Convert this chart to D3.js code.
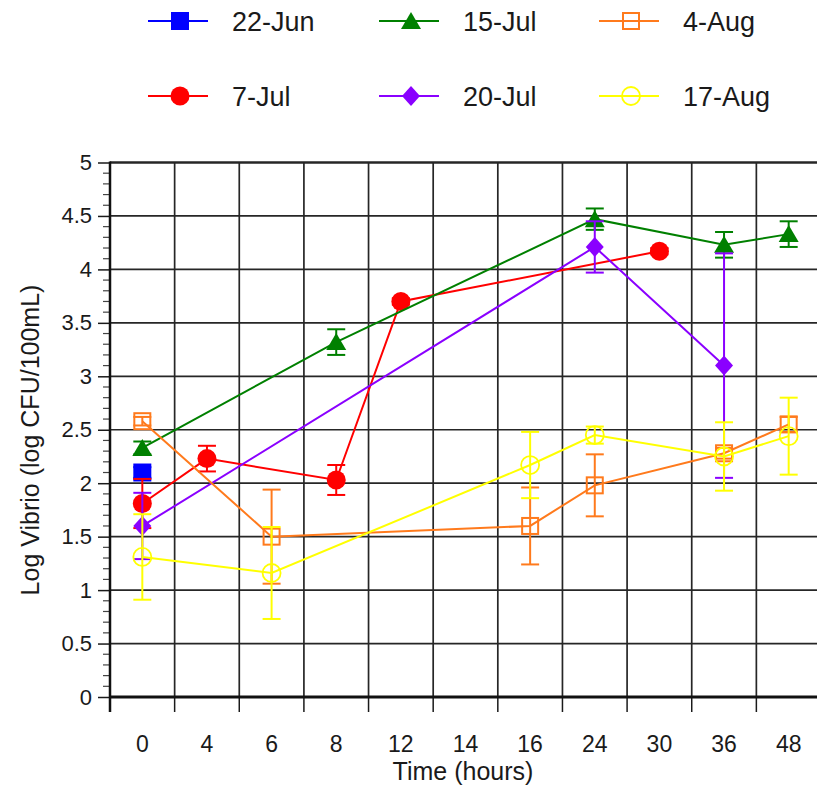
<!DOCTYPE html>
<html><head><meta charset="utf-8">
<script src="https://cdn.jsdelivr.net/npm/d3@7"></script>
<style>
body{margin:0;background:#fff;overflow:hidden}
svg{display:block}
text{font-family:"Liberation Sans",Arial,Helvetica,sans-serif;fill:#1a1a1a}
</style>
</head><body>
<svg id="chart" width="817" height="786"></svg>
<script>
// ---- data ----
const timeLabels = ["0","4","6","8","12","14","16","24","30","36","48"];
const yTickValues = [0,0.5,1,1.5,2,2.5,3,3.5,4,4.5,5];
const seriesNames = ["22-Jun","7-Jul","15-Jul","20-Jul","4-Aug","17-Aug"];
const seriesColors = ["#0000ff","#ff0000","#008000","#8a00ff","#ff7a1c","#ffff00"];
const seriesSymbols = ["square","circle","triangle","diamond","squareOpen","circleOpen"];

const jun22Times = ["0"];
const jun22Values = [2.10];
const jun22Errors = [0.05];

const jul7Times = ["0","4","8","12","30"];
const jul7Values = [1.81,2.23,2.03,3.70,4.17];
const jul7Errors = [0.23,0.12,0.14,0.03,0.03];

const jul15Times = ["0","8","24","36","48"];
const jul15Values = [2.33,3.32,4.47,4.23,4.33];
const jul15Errors = [0.06,0.12,0.10,0.12,0.12];

const jul20Times = ["0","24","36"];
const jul20Values = [1.60,4.21,3.10];
const jul20Errors = [0.31,0.24,1.05];

const aug4Times = ["0","6","16","24","36","48"];
const aug4Values = [2.58,1.50,1.60,1.98,2.28,2.55];
const aug4Errors = [0.04,0.44,0.36,0.29,0.05,0.07];

const aug17Times = ["0","6","16","24","36","48"];
const aug17Values = [1.31,1.16,2.17,2.45,2.25,2.44];
const aug17Errors = [0.40,0.43,0.31,0.08,0.32,0.36];

const seriesTimes = [jun22Times,jul7Times,jul15Times,jul20Times,aug4Times,aug17Times];
const seriesValues = [jun22Values,jul7Values,jul15Values,jul20Values,aug4Values,aug17Values];
const seriesErrors = [jun22Errors,jul7Errors,jul15Errors,jul20Errors,aug4Errors,aug17Errors];

// ---- layout ----
const svg = d3.select("#chart");
const plotLeft = 110, plotTop = 162.5, plotBottom = 697, plotRight = 821;
const x = d3.scaleBand().domain(timeLabels).range([plotLeft, plotRight]);
const xc = t => x(t) + x.bandwidth()/2;
const y = d3.scaleLinear().domain([0,5]).range([plotBottom, plotTop]);

const grid = svg.append("g");
grid.selectAll("line.h").data(yTickValues).join("line")
  .attr("x1", plotLeft).attr("x2", 817)
  .attr("y1", d=>y(d)).attr("y2", d=>y(d))
  .attr("stroke", "#262626").attr("stroke-width", d => (d===5?2.6:1.7));
grid.selectAll("line.v").data(timeLabels.slice(1)).join("line")
  .attr("x1", d=>x(d)).attr("x2", d=>x(d))
  .attr("y1", plotTop).attr("y2", plotBottom)
  .attr("stroke", "#262626").attr("stroke-width", 1.7);

// y axis
const yAxis = d3.axisLeft(y).tickValues(yTickValues).tickSize(12).tickPadding(6)
  .tickFormat(d3.format("~g"));
const gy = svg.append("g").attr("transform", `translate(${plotLeft},0)`).call(yAxis);
gy.select(".domain").remove();
gy.selectAll(".tick line").attr("stroke","#1a1a1a").attr("stroke-width",1.5);
gy.selectAll(".tick text").attr("font-size",22).attr("fill","#1a1a1a")
  .attr("font-family",'"Liberation Sans",Arial,sans-serif');
const minor = d3.range(0, 50).map(i => i/10).filter(v => Math.abs(v*2 - Math.round(v*2))>1e-6);
svg.append("g").selectAll("line").data(minor).join("line")
  .attr("x1", plotLeft-7).attr("x2", plotLeft).attr("y1", d=>y(d)).attr("y2", d=>y(d))
  .attr("stroke","#444").attr("stroke-width",1.2);

// x axis
const gx = svg.append("g").attr("transform", `translate(0,${plotBottom})`);
gx.selectAll("line").data(timeLabels).join("line")
  .attr("x1", d=>x(d)).attr("x2", d=>x(d)).attr("y1", 0).attr("y2", 15)
  .attr("stroke","#1a1a1a").attr("stroke-width",1.5);
gx.selectAll("text").data(timeLabels).join("text")
  .attr("x", d=>xc(d)).attr("y", 55).attr("text-anchor","middle")
  .attr("font-size",23).text(d=>d);

svg.append("line").attr("x1",plotLeft).attr("x2",plotLeft).attr("y1",plotTop-1).attr("y2",plotBottom+15)
  .attr("stroke","#111").attr("stroke-width",2.5);
svg.append("line").attr("x1",plotLeft).attr("x2",817).attr("y1",plotBottom).attr("y2",plotBottom)
  .attr("stroke","#111").attr("stroke-width",3);

svg.append("text").attr("x", 463).attr("y", 780).attr("text-anchor","middle")
  .attr("font-size",25).text("Time (hours)");
svg.append("text").attr("transform","translate(39,440) rotate(-90)")
  .attr("text-anchor","middle").attr("font-size",25).text("Log Vibrio (log CFU/100mL)");

function drawSymbol(g, type, color, cx, cy) {
  const s = 9;
  if (type === "square") {
    g.append("rect").attr("x",cx-s).attr("y",cy-s).attr("width",2*s).attr("height",2*s).attr("fill",color);
  } else if (type === "squareOpen") {
    g.append("rect").attr("x",cx-s+1).attr("y",cy-s+1).attr("width",2*s-2).attr("height",2*s-2)
      .attr("fill","none").attr("stroke",color).attr("stroke-width",2);
  } else if (type === "circle") {
    g.append("circle").attr("cx",cx).attr("cy",cy).attr("r",9.5).attr("fill",color);
  } else if (type === "circleOpen") {
    g.append("circle").attr("cx",cx).attr("cy",cy).attr("r",9).attr("fill","none")
      .attr("stroke",color).attr("stroke-width",1.8);
  } else if (type === "triangle") {
    g.append("path").attr("d",`M${cx},${cy-9}L${cx+10},${cy+8}L${cx-10},${cy+8}Z`).attr("fill",color);
  } else if (type === "diamond") {
    g.append("path").attr("d",`M${cx},${cy-10}L${cx+9},${cy}L${cx},${cy+10}L${cx-9},${cy}Z`).attr("fill",color);
  }
}

const plot = svg.append("g");
seriesNames.forEach((name, i) => {
  const pts = seriesTimes[i].map((t,j)=>({t, v: seriesValues[i][j], e: seriesErrors[i][j]}));
  const color = seriesColors[i];
  const g = plot.append("g");
  pts.forEach(p => {
    const cx = xc(p.t);
    g.append("line").attr("x1",cx).attr("x2",cx).attr("y1",y(p.v-p.e)).attr("y2",y(p.v+p.e))
      .attr("stroke",color).attr("stroke-width",2);
    [p.v-p.e, p.v+p.e].forEach(v => g.append("line").attr("x1",cx-9).attr("x2",cx+9)
      .attr("y1",y(v)).attr("y2",y(v)).attr("stroke",color).attr("stroke-width",2));
  });
  g.append("path").datum(pts)
    .attr("d", d3.line().x(p=>xc(p.t)).y(p=>y(p.v)))
    .attr("fill","none").attr("stroke",color).attr("stroke-width",2);
  pts.forEach(p => drawSymbol(g, seriesSymbols[i], color, xc(p.t), y(p.v)));
});

const legendCols = [180, 411, 631];
const legendRows = [21, 96];
const legend = svg.append("g");
seriesNames.forEach((name, i) => {
  const col = Math.floor(i/2), row = i%2;
  const cx = legendCols[col], cy = legendRows[row];
  const color = seriesColors[i];
  legend.append("line").attr("x1",cx-32).attr("x2",cx+28).attr("y1",cy).attr("y2",cy)
    .attr("stroke",color).attr("stroke-width",2);
  drawSymbol(legend, seriesSymbols[i], color, cx, cy);
  legend.append("text").attr("x", cx+52).attr("y", cy+10).attr("font-size",27).text(name);
});
</script>
</body></html>
